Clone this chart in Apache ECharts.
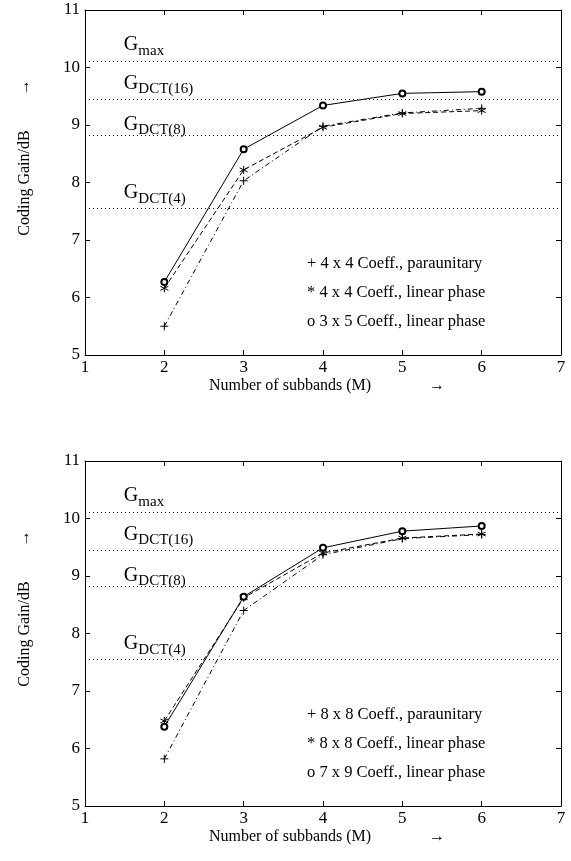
<!DOCTYPE html>
<html><head><meta charset="utf-8">
<script src="https://cdn.jsdelivr.net/npm/echarts@6/dist/echarts.min.js"></script>
<style>html,body{margin:0;padding:0;background:#fff}#c{width:571px;height:861px}</style>
</head><body><div id="c"></div>
<script>
// ---- data ----
const subbands = [2, 3, 4, 5, 6];
// top panel (4x4 / 3x5)
const top_para   = [5.50, 8.03, 8.98, 9.21, 9.29];
const top_linear = [6.16, 8.22, 8.96, 9.20, 9.25];
const top_35     = [6.27, 8.58, 9.34, 9.55, 9.58];
// bottom panel (8x8 / 7x9)
const bot_para   = [5.82, 8.40, 9.37, 9.65, 9.72];
const bot_linear = [6.48, 8.62, 9.40, 9.66, 9.73];
const bot_79     = [6.38, 8.64, 9.49, 9.78, 9.87];
// reference coding gains (dotted lines) and their labels
const refValues = [10.11, 9.45, 8.82, 7.55];
const refNames  = ['max', 'DCT(16)', 'DCT(8)', 'DCT(4)'];
const refLabelAt = [10.39, 9.72, 9.01, 7.82];
const refLabelX = 1.49;
const legendTop = ['+ 4 x 4 Coeff., paraunitary', '* 4 x 4 Coeff., linear phase', 'o 3 x 5 Coeff., linear phase'];
const legendBot = ['+ 8 x 8 Coeff., paraunitary', '* 8 x 8 Coeff., linear phase', 'o 7 x 9 Coeff., linear phase'];
const xTicks = [1, 7, 1];
const yTicks = [5, 11, 1];

const F = 'Liberation Serif';
const grids = [
  {left: 85, top: 10, width: 476, height: 345},
  {left: 85, top: 461, width: 476, height: 345}
];
const panels = [
  {para: top_para, lin: top_linear, other: top_35, legend: legendTop},
  {para: bot_para, lin: bot_linear, other: bot_79, legend: legendBot}
];
const plusPath = 'path://M0,5L10,5M5,0L5,10';
const starPath = 'path://M5,0L5,10M0.67,2.5L9.33,7.5M0.67,7.5L9.33,2.5';

const xAxes = [], yAxes = [], series = [], graphics = [];
grids.forEach((g, i) => {
  const tick = {inside: true, length: 5, lineStyle: {color: '#000', width: 1}};
  const line = {onZero: false, lineStyle: {color: '#000', width: 1}};
  xAxes.push({
    gridIndex: i, type: 'value', min: xTicks[0], max: xTicks[1], interval: xTicks[2],
    axisLine: line, axisTick: tick, splitLine: {show: false},
    axisLabel: {color: '#000', fontSize: 17, fontFamily: F, margin: 4},
    name: '{a|Number of subbands (M)}{b|→}', nameLocation: 'middle', nameGap: 23,
    nameTextStyle: {rich: {
      a: {fontSize: 16, fontFamily: F, color: '#000', padding: [0, 0, 0, 8]},
      b: {fontSize: 16, fontFamily: F, color: '#000', padding: [0, 0, 0, 58]}
    }}
  });
  xAxes.push({
    gridIndex: i, type: 'value', position: 'top', min: xTicks[0], max: xTicks[1], interval: xTicks[2],
    axisLine: line, axisTick: tick, splitLine: {show: false}, axisLabel: {show: false}
  });
  yAxes.push({
    gridIndex: i, type: 'value', min: yTicks[0], max: yTicks[1], interval: yTicks[2],
    axisLine: line, axisTick: tick, splitLine: {show: false},
    axisLabel: {color: '#000', fontSize: 17, fontFamily: F, margin: 5},
    name: '{a|Coding Gain/dB}{b|→}', nameLocation: 'middle', nameGap: 52, nameRotate: 90,
    nameTextStyle: {rich: {
      a: {fontSize: 16, fontFamily: F, color: '#000', padding: [0, 0, 0, 50]},
      b: {fontSize: 16, fontFamily: F, color: '#000', padding: [0, 0, 0, 35]}
    }}
  });
  yAxes.push({
    gridIndex: i, type: 'value', position: 'right', min: yTicks[0], max: yTicks[1], interval: yTicks[2],
    axisLine: line, axisTick: tick, splitLine: {show: false}, axisLabel: {show: false}
  });
  const xi = 2 * i, yi = 2 * i;
  const p = panels[i];
  const mk = arr => subbands.map((x, k) => [x, arr[k]]);
  series.push({
    type: 'line', xAxisIndex: xi, yAxisIndex: yi, data: mk(p.other),
    symbol: 'emptyCircle', symbolSize: 6, z: 5,
    lineStyle: {color: '#000', width: 1, type: 'solid'},
    itemStyle: {color: '#000', borderColor: '#000', borderWidth: 1},
    markLine: {
      silent: true, symbol: ['none', 'none'], label: {show: false},
      lineStyle: {color: '#000', width: 1, type: [1, 3]},
      data: refValues.map(v => ({yAxis: v}))
    }
  });
  series.push({
    type: 'line', xAxisIndex: xi, yAxisIndex: yi, data: mk(p.lin),
    symbol: starPath, symbolSize: 8, z: 4,
    lineStyle: {color: '#000', width: 1, type: [5, 3]},
    itemStyle: {color: '#000', borderColor: '#000', borderWidth: 1}
  });
  series.push({
    type: 'line', xAxisIndex: xi, yAxisIndex: yi, data: mk(p.para),
    symbol: plusPath, symbolSize: 8, z: 3,
    lineStyle: {color: '#000', width: 1, type: [5, 3, 1, 3]},
    itemStyle: {color: '#000', borderColor: '#000', borderWidth: 1}
  });
  const labelData = refLabelAt.map((v, k) => ({value: [refLabelX, v], name: refNames[k]}));
  // "G"
  series.push({
    type: 'scatter', xAxisIndex: xi, yAxisIndex: yi, silent: true,
    symbolSize: 0.1, itemStyle: {color: 'rgba(0,0,0,0)', opacity: 1},
    data: labelData,
    label: {
      show: true, position: [0, 0], align: 'left', verticalAlign: 'middle',
      formatter: () => 'G', fontSize: 20, fontFamily: F, color: '#000'
    }
  });
  // subscript
  series.push({
    type: 'scatter', xAxisIndex: xi, yAxisIndex: yi, silent: true,
    symbolSize: 0.1, itemStyle: {color: 'rgba(0,0,0,0)', opacity: 1},
    data: labelData,
    label: {
      show: true, position: [14.5, 6], align: 'left', verticalAlign: 'middle',
      formatter: q => q.name, fontSize: 15, fontFamily: F, color: '#000'
    }
  });
  p.legend.forEach((t, k) => {
    graphics.push({
      type: 'text', left: 307, top: g.top + 245 + k * 29,
      style: {text: t, font: '16.5px "' + F + '"', fill: '#000'}
    });
  });
});

const chart = echarts.init(document.getElementById('c'), null, {renderer: 'canvas'});
chart.setOption({
  animation: false,
  backgroundColor: '#fff',
  grid: grids,
  xAxis: xAxes,
  yAxis: yAxes,
  series: series,
  graphic: graphics
});
</script>
</body></html>
